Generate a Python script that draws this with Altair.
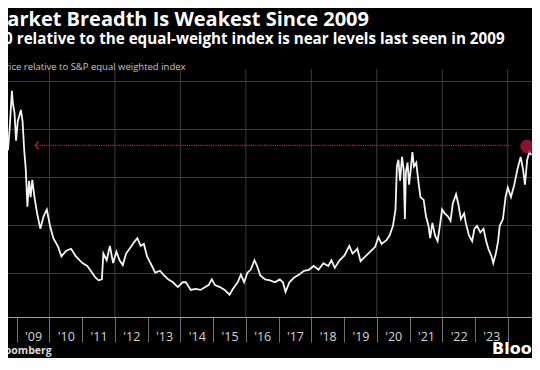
import altair as alt
import pandas as pd

FONT = "Open Sans"

title = "Market Breadth Is Weakest Since 2009"
subtitle = "S&P 500 relative to the equal-weight index is near levels last seen in 2009"
y_title = "Price relative to S&P equal weighted index"
source = "Source: Bloomberg"
brand = "Bloomberg"

years = [2008.734, 2008.785, 2008.853, 2008.882, 2008.933, 2008.980, 2009.031, 2009.128, 2009.179, 2009.229,
         2009.277, 2009.327, 2009.377, 2009.425, 2009.475, 2009.543, 2009.623, 2009.721, 2009.822, 2009.920,
         2010.018, 2010.119, 2010.267, 2010.365, 2010.513, 2010.661, 2010.809, 2011.008, 2011.156, 2011.304,
         2011.402, 2011.500, 2011.601, 2011.648, 2011.749, 2011.847, 2011.945, 2012.046, 2012.143, 2012.241,
         2012.342, 2012.490, 2012.588, 2012.686, 2012.787, 2012.885, 2012.982, 2013.131, 2013.232, 2013.380,
         2013.478, 2013.626, 2013.774, 2013.922, 2014.070, 2014.168, 2014.317, 2014.465, 2014.613, 2014.761,
         2014.862, 2014.960, 2015.058, 2015.206, 2015.354, 2015.502, 2015.603, 2015.751, 2015.849, 2015.947,
         2016.048, 2016.146, 2016.264, 2016.344, 2016.442, 2016.590, 2016.739, 2016.887, 2017.035, 2017.133,
         2017.213, 2017.332, 2017.480, 2017.628, 2017.776, 2017.925, 2018.073, 2018.221, 2018.369, 2018.518,
         2018.615, 2018.716, 2018.864, 2019.013, 2019.161, 2019.259, 2019.357, 2019.407, 2019.505, 2019.653,
         2019.801, 2019.950, 2020.050, 2020.148, 2020.296, 2020.394, 2020.495, 2020.572, 2020.614, 2020.661,
         2020.712, 2020.771, 2020.821, 2020.860, 2020.889, 2020.940, 2020.987, 2021.038, 2021.088, 2021.135,
         2021.206, 2021.283, 2021.334, 2021.432, 2021.503, 2021.580, 2021.631, 2021.699, 2021.779, 2021.859,
         2021.927, 2021.995, 2022.075, 2022.173, 2022.253, 2022.321, 2022.422, 2022.490, 2022.570, 2022.668,
         2022.719, 2022.816, 2022.914, 2022.985, 2023.062, 2023.163, 2023.261, 2023.341, 2023.409, 2023.507,
         2023.558, 2023.637, 2023.706, 2023.756, 2023.854, 2023.934, 2024.002, 2024.100, 2024.201, 2024.298,
         2024.396, 2024.468, 2024.527, 2024.595, 2024.663, 2024.723]

values = [0.828, 0.851, 0.890, 0.877, 0.867, 0.838, 0.858, 0.870, 0.858, 0.828,
          0.808, 0.769, 0.796, 0.779, 0.797, 0.779, 0.762, 0.746, 0.759, 0.766,
          0.749, 0.736, 0.727, 0.717, 0.723, 0.725, 0.717, 0.710, 0.707, 0.700,
          0.695, 0.692, 0.693, 0.720, 0.713, 0.728, 0.710, 0.722, 0.713, 0.708,
          0.720, 0.727, 0.732, 0.736, 0.728, 0.730, 0.717, 0.707, 0.700, 0.702,
          0.698, 0.693, 0.690, 0.685, 0.690, 0.690, 0.682, 0.683, 0.682, 0.685,
          0.687, 0.693, 0.687, 0.685, 0.682, 0.677, 0.683, 0.690, 0.698, 0.690,
          0.700, 0.703, 0.713, 0.707, 0.697, 0.693, 0.692, 0.690, 0.693, 0.690,
          0.680, 0.690, 0.695, 0.698, 0.702, 0.703, 0.707, 0.703, 0.710, 0.707,
          0.713, 0.705, 0.713, 0.718, 0.728, 0.720, 0.723, 0.725, 0.712, 0.717,
          0.722, 0.727, 0.737, 0.730, 0.734, 0.739, 0.749, 0.766, 0.811, 0.818,
          0.796, 0.821, 0.808, 0.756, 0.805, 0.815, 0.792, 0.808, 0.826, 0.811,
          0.815, 0.792, 0.779, 0.776, 0.759, 0.749, 0.736, 0.752, 0.739, 0.733,
          0.749, 0.766, 0.762, 0.759, 0.754, 0.772, 0.782, 0.772, 0.756, 0.762,
          0.752, 0.739, 0.733, 0.746, 0.749, 0.742, 0.746, 0.733, 0.725, 0.717,
          0.710, 0.720, 0.733, 0.749, 0.756, 0.779, 0.789, 0.779, 0.792, 0.808,
          0.821, 0.808, 0.792, 0.818, 0.826, 0.823]

assert len(years) == len(values)

tick_years = list(range(2009, 2025))
grid_years = [2010, 2012, 2014, 2016, 2018, 2020, 2022, 2024]
grid_values = [0.70, 0.75, 0.80, 0.85, 0.90]

ref_level = 0.833
ref_start = 2009.564
ref_end = 2024.091
last_year = 2024.595
last_value = 0.832

x_domain = [2008.734, 2024.742]
y_domain = [0.6537, 0.9128]

RED = "#d0182f"
GRID = "#3c3c3c"

x_axis = alt.Axis(
    values=tick_years,
    labelExpr="datum.value >= 2024 ? '' : \"'\" + slice(toString(datum.value), 2)",
    grid=False, title=None,
    domainColor="#a0a0a0", domainWidth=1,
    tickColor="#6e6e6e", tickSize=25, tickWidth=1,
    labelPadding=-6, labelBaseline="middle", labelOffset=16.4,
    labelColor="#d4d4d4", labelFontSize=12.5, labelFont=FONT,
    labelFlush=False, labelOverlap=False,
)
y_axis = alt.Axis(values=grid_values, grid=True, gridColor=GRID, gridWidth=1,
                  labels=False, ticks=False, domain=False, title=None)

x_enc = alt.X("year:Q", scale=alt.Scale(domain=x_domain, nice=False, zero=False), axis=x_axis)
y_enc = alt.Y("value:Q", scale=alt.Scale(domain=y_domain, nice=False, zero=False), axis=y_axis)

df = pd.DataFrame({"year": years, "value": values})

vgrid = alt.Chart(pd.DataFrame({"year": grid_years})).mark_rule(
    color=GRID, strokeWidth=1).encode(x=x_enc)

line = alt.Chart(df).mark_line(color="#f4f4f4", strokeWidth=1.8, clip=True).encode(x=x_enc, y=y_enc)

ref_df = pd.DataFrame({"year": [ref_start], "year2": [ref_end], "value": [ref_level]})
ref_line = alt.Chart(ref_df).mark_rule(color=RED, strokeWidth=1.4, strokeDash=[1.2, 1.0]).encode(
    x=x_enc, x2="year2:Q", y=y_enc)
arrow = alt.Chart(ref_df).mark_point(
    shape="M 0.85,-1 L 0,0 L 0.85,1", filled=False, color=RED, strokeWidth=1.3, size=64, opacity=1
).encode(x=x_enc, y=y_enc)

last_df = pd.DataFrame({"year": [last_year], "value": [last_value]})
circle = alt.Chart(last_df).mark_circle(color="#b3163a", opacity=0.78, size=190).encode(x=x_enc, y=y_enc)


def txt(s, x, y, size, weight, color, align, font=FONT):
    return alt.Chart(pd.DataFrame({"t": [s]})).mark_text(
        align=align, baseline="alphabetic", fontSize=size, fontWeight=weight,
        color=color, font=font
    ).encode(text="t:N", x=alt.value(x), y=alt.value(y))


texts = [
    txt(title, 361, -42.6, 20, "bold", "#ffffff", "right"),
    txt(subtitle, 496.6, -24.6, 15.2, "bold", "#ffffff", "right"),
    txt(y_title, 177.5, 1.4, 9.5, "normal", "#c4c4c4", "right"),
    txt(source, 43.7, 284.8, 10.5, "bold", "#dcdcdc", "right"),
    txt(brand, 484, 285.2, 16, "bold", "#ffffff", "left", "DejaVu Sans"),
]

chart = alt.layer(vgrid, line, ref_line, arrow, circle, *texts).properties(
    width=524, height=248,
    padding={"left": 0, "right": 0, "top": 61, "bottom": 41},
    autosize=alt.AutoSizeParams(type="none"),
    background="#000000",
).configure_view(strokeWidth=0)

chart.save("out.html", embed_options={"renderer": "svg", "actions": False})
